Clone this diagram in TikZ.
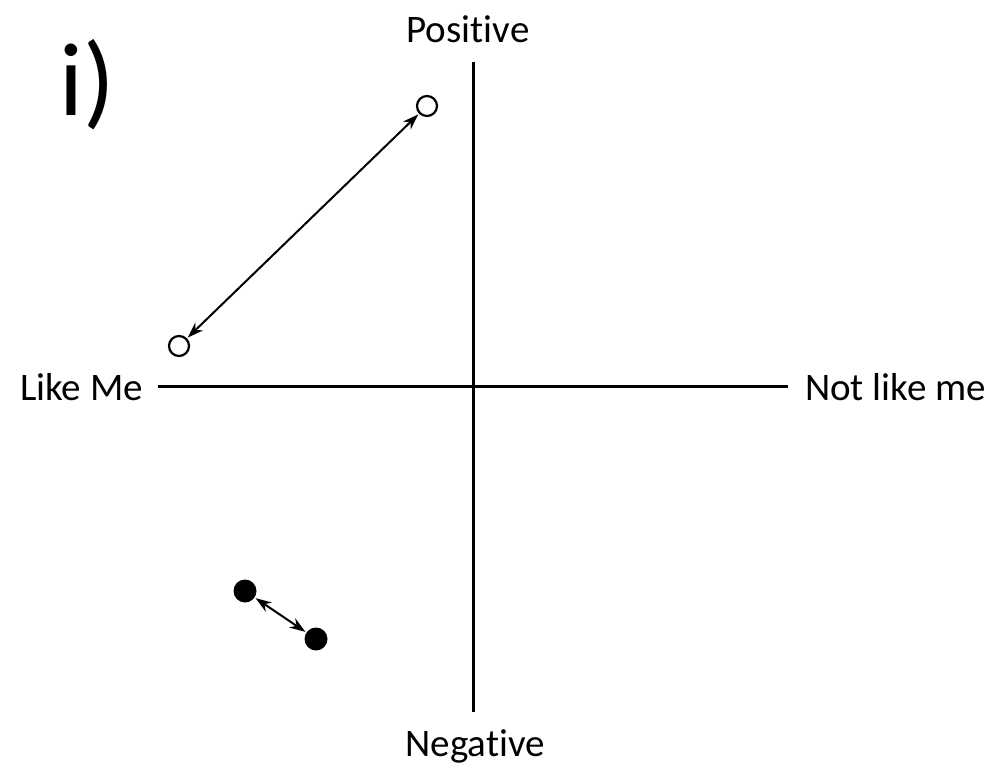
\documentclass[tikz,border=0pt]{standalone}
\usepackage{fontspec}
\setmainfont{Carlito}[Ligatures=NoCommon]
\usetikzlibrary{arrows.meta}
\begin{document}
\begin{tikzpicture}[x=1pt,y=-1pt,
  axis/.style={line width=3pt},
  lbl/.style={font=\fontsize{39}{47}\selectfont, inner sep=0pt},
  opendot/.style={circle, draw, line width=2.2pt, fill=white, minimum size=20pt, inner sep=0pt},
  fulldot/.style={circle, fill=black, minimum size=23pt, inner sep=0pt},
  dbl/.style={line width=2pt, {Stealth[length=16pt,width=11pt]}-{Stealth[length=16pt,width=11pt]}, shorten <=1pt, shorten >=1pt}]
\useasboundingbox (0,0) rectangle (993,776);
\coordinate (vt) at (473,62);
\coordinate (vb) at (473,712);
\coordinate (hl) at (158,386);
\coordinate (hr) at (788,386);
\draw[axis] (vt) -- (vb);
\draw[axis] (hl) -- (hr);
\node[lbl, anchor=base] (pos) at (468,43) {Positive};
\node[lbl, anchor=base] (neg) at (475,756) {Negative};
\node[lbl, anchor=base east] (like) at (143,400) {Like Me};
\node[lbl, anchor=base west] (notlike) at (805,400) {Not like me};
\node[font=\fontsize{104}{110}\selectfont, inner sep=0pt] (title) at (87,85) {i)};
\node[opendot] (o1) at (427,106) {};
\node[opendot] (o2) at (179,346) {};
\node[fulldot] (f1) at (245,591) {};
\node[fulldot] (f2) at (316,639) {};
\draw[dbl] (o1) -- (o2);
\draw[dbl] (f1) -- (f2);
\end{tikzpicture}
\end{document}
